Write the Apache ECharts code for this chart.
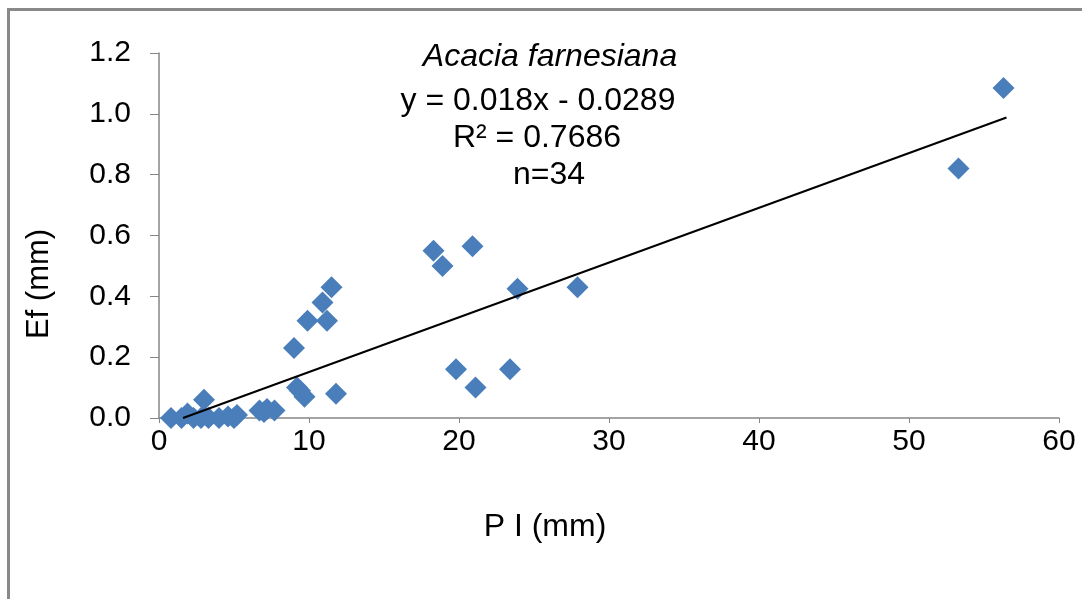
<!DOCTYPE html>
<html>
<head>
<meta charset="utf-8">
<script src="https://cdn.jsdelivr.net/npm/echarts@6/dist/echarts.min.js"></script>
<style>
html,body{margin:0;padding:0;background:#fff;}
#c{width:1082px;height:599px;}
</style>
</head>
<body>
<div id="c"></div>
<script>
// Data
const plValues = [0.8, 1.5, 1.9, 2.3, 2.8, 3.0, 3.3, 4.0, 4.6, 5.0, 5.2, 6.7, 7.0, 7.2, 7.7, 9.0, 9.2, 9.4, 9.7, 9.9, 10.9, 11.2, 11.5, 11.8, 18.3, 18.9, 19.8, 20.9, 21.1, 23.4, 23.9, 27.9, 53.3, 56.3];
const efValues = [0.00, 0.00, 0.015, 0.00, 0.00, 0.06, 0.00, 0.00, 0.005, 0.00, 0.01, 0.025, 0.02, 0.03, 0.025, 0.23, 0.10, 0.09, 0.07, 0.32, 0.38, 0.32, 0.43, 0.08, 0.55, 0.50, 0.16, 0.565, 0.10, 0.16, 0.425, 0.43, 0.82, 1.085];
const slope = 0.018;
const intercept = -0.0289;
const trendX = [1.6, 56.5];
const titleLines = ['Acacia farnesiana', 'y = 0.018x - 0.0289', 'R² = 0.7686', 'n=34'];
const xAxisLabel = 'P I (mm)';
const yAxisLabel = 'Ef (mm)';

const points = plValues.map((x, i) => [x, efValues[i]]);
const trend = trendX.map(x => [x, slope * x + intercept]);

const chart = echarts.init(document.getElementById('c'), null, {renderer: 'canvas'});
const font = 'Liberation Sans, Arial, sans-serif';
chart.setOption({
  animation: false,
  backgroundColor: '#fff',
  grid: {left: 159, right: 23, top: 53, bottom: 181, containLabel: false},
  xAxis: {
    type: 'value', min: 0, max: 60, interval: 10,
    axisLine: {show: true, lineStyle: {color: '#868686', width: 1.5}},
    axisTick: {show: true, length: 5, lineStyle: {color: '#868686'}},
    splitLine: {show: false},
    axisLabel: {color: '#000', fontSize: 30, fontFamily: font, margin: 9}
  },
  yAxis: {
    type: 'value', min: 0, max: 1.2, interval: 0.2,
    axisLine: {show: true, lineStyle: {color: '#868686', width: 1.5}},
    axisTick: {show: true, length: 9, lineStyle: {color: '#868686'}},
    splitLine: {show: false},
    axisLabel: {color: '#000', fontSize: 30, fontFamily: font, margin: 28,
      formatter: v => v.toFixed(1)}
  },
  series: [
    {
      type: 'line', data: trend, symbol: 'none', silent: true,
      lineStyle: {color: '#000', width: 2}, z: 3
    },
    {
      type: 'scatter', data: points, symbol: 'diamond', symbolSize: 22,
      itemStyle: {color: '#4a7ebb', opacity: 1}, z: 2
    }
  ],
  graphic: [
    {type: 'rect', shape: {x: 8.5, y: 9.5, width: 1200, height: 800},
      style: {fill: 'none', stroke: '#898989', lineWidth: 3}, silent: true},
    {type: 'text', x: 550, y: 57, style: {text: titleLines[0], font: 'italic 32px ' + font, fill: '#000', textAlign: 'center', textVerticalAlign: 'middle'}},
    {type: 'text', x: 538, y: 101, style: {text: titleLines[1], font: '32px ' + font, fill: '#000', textAlign: 'center', textVerticalAlign: 'middle'}},
    {type: 'text', x: 537, y: 138, style: {text: titleLines[2], font: '32px ' + font, fill: '#000', textAlign: 'center', textVerticalAlign: 'middle'}},
    {type: 'text', x: 549, y: 175, style: {text: titleLines[3], font: '32px ' + font, fill: '#000', textAlign: 'center', textVerticalAlign: 'middle'}},
    {type: 'text', x: 545, y: 527, style: {text: xAxisLabel, font: '32px ' + font, fill: '#000', textAlign: 'center', textVerticalAlign: 'middle'}},
    {type: 'text', x: 39, y: 284, rotation: Math.PI / 2, style: {text: yAxisLabel, font: '31px ' + font, fill: '#000', textAlign: 'center', textVerticalAlign: 'middle'}}
  ]
});
</script>
</body>
</html>
